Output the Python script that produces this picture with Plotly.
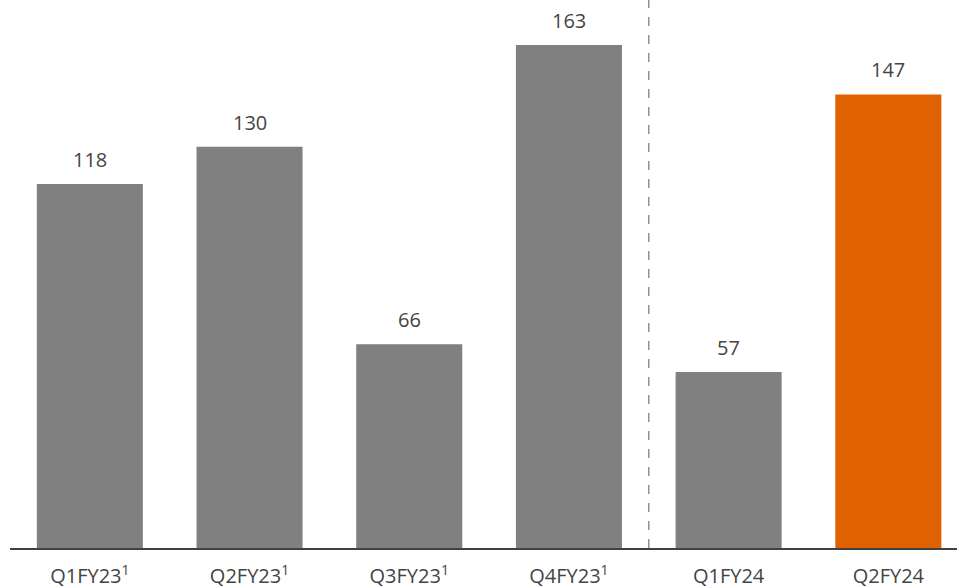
import plotly.graph_objects as go

categories = ["Q1FY23", "Q2FY23", "Q3FY23", "Q4FY23", "Q1FY24", "Q2FY24"]
tick_labels = ["Q1FY23<sup>1</sup>", "Q2FY23<sup>1</sup>", "Q3FY23<sup>1</sup>",
               "Q4FY23<sup>1</sup>", "Q1FY24", "Q2FY24"]
values = [118, 130, 66, 163, 57, 147]
colors = ["#808080", "#808080", "#808080", "#808080", "#808080", "#DF6100"]

FONT = "Open Sans"
TXT = "#444444"

fig = go.Figure()
fig.add_trace(go.Bar(
    x=categories, y=values, marker=dict(color=colors, line=dict(width=0)),
    width=0.664, hoverinfo="skip",
))

for c, v in zip(categories, values):
    fig.add_annotation(x=c, y=v, text=str(v), showarrow=False, yanchor="bottom",
                       yshift=9, font=dict(family=FONT, size=20, color=TXT))

fig.add_shape(type="line", xref="x", yref="paper", x0=3.5, x1=3.5, y0=0, y1=1,
              line=dict(color="#808080", width=1.3, dash="dash"), layer="below")

fig.update_layout(
    width=957, height=588,
    margin=dict(l=10, r=0, t=0, b=40),
    plot_bgcolor="white", paper_bgcolor="white",
    showlegend=False,
    xaxis=dict(
        type="category", range=[-0.5, 5.43],
        tickvals=categories, ticktext=tick_labels,
        showline=True, linecolor="#404040", linewidth=2,
        showgrid=False, zeroline=False,
        ticks="outside", ticklen=9, tickcolor="rgba(0,0,0,0)",
        tickfont=dict(family=FONT, size=20, color=TXT),
    ),
    yaxis=dict(range=[0, 177.6], visible=False, showgrid=False, zeroline=False),
)

fig.write_html("out.html", config={"displayModeBar": False},
               post_script="document.body.style.margin='0px';document.body.style.overflow='hidden';")
